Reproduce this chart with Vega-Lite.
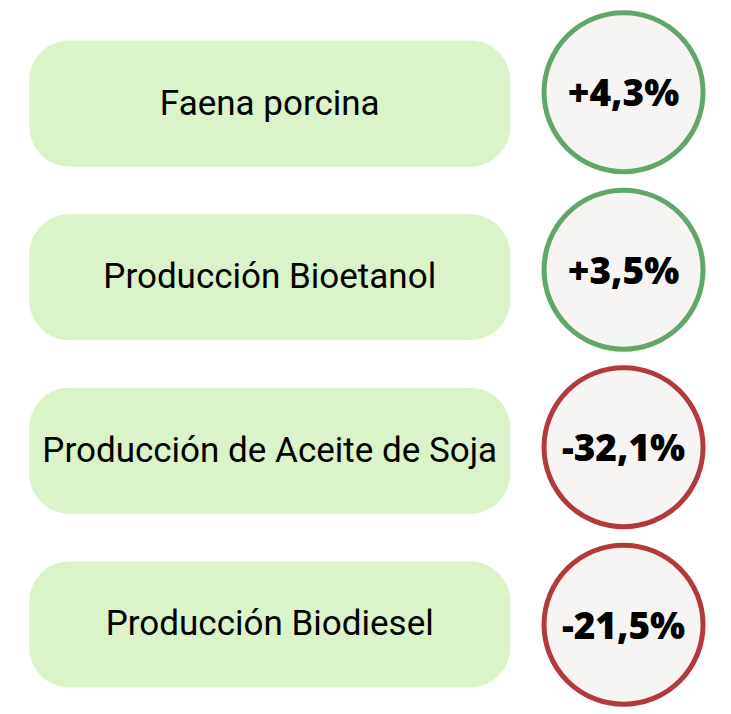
{
  "$schema": "https://vega.github.io/schema/vega-lite/v6.json",
  "width": 731,
  "height": 714,
  "autosize": {"type": "fit", "contains": "padding"},
  "padding": 0,
  "background": "white",
  "config": {"view": {"stroke": null}},
  "data": {"values": [
    {"indicador": "Faena porcina", "variacion": 4.3, "etiqueta": "+4,3%"},
    {"indicador": "Producción Bioetanol", "variacion": 3.5, "etiqueta": "+3,5%"},
    {"indicador": "Producción de Aceite de Soja", "variacion": -32.1, "etiqueta": "-32,1%"},
    {"indicador": "Producción Biodiesel", "variacion": -21.5, "etiqueta": "-21,5%"}
  ]},
  "resolve": {"scale": {"y": "independent"}},
  "layer": [
    {
      "encoding": {
        "y": {"field": "indicador", "type": "nominal", "sort": null, "axis": null,
              "scale": {"type": "band", "paddingInner": 0.2747, "paddingOuter": 0.1762, "align": 0.663}}
      },
      "layer": [
        {"mark": {"type": "bar", "color": "#daf3c8", "cornerRadius": 40},
         "encoding": {
           "x": {"datum": 4, "type": "quantitative", "scale": {"domain": [0, 100], "nice": false, "zero": false}, "axis": null},
           "x2": {"datum": 69.8}
         }},
        {"mark": {"type": "text", "font": "Roboto", "fontSize": 35, "color": "black", "baseline": "middle"},
         "encoding": {
           "x": {"datum": 36.9, "type": "quantitative"},
           "text": {"field": "indicador"}
         }}
      ]
    },
    {
      "encoding": {
        "y": {"field": "indicador", "type": "nominal", "sort": null, "axis": null,
              "scale": {"type": "point", "padding": 0.4944, "align": 0.5254}}
      },
      "layer": [
        {"mark": {"type": "point", "shape": "circle", "filled": false, "fill": "#f7f5f3", "size": 25281, "strokeWidth": 5, "opacity": 1, "fillOpacity": 1, "strokeOpacity": 1},
         "encoding": {
           "x": {"datum": 85.3, "type": "quantitative"},
           "stroke": {"condition": {"test": "datum.variacion >= 0", "value": "#62a66b"}, "value": "#b33a3a"}
         }},
        {"mark": {"type": "text", "font": "Open Sans", "fontWeight": 800, "fontSize": 37, "color": "black", "baseline": "middle", "dy": 3},
         "encoding": {
           "x": {"datum": 85.3, "type": "quantitative"},
           "text": {"field": "etiqueta"}
         }}
      ]
    }
  ]
}
